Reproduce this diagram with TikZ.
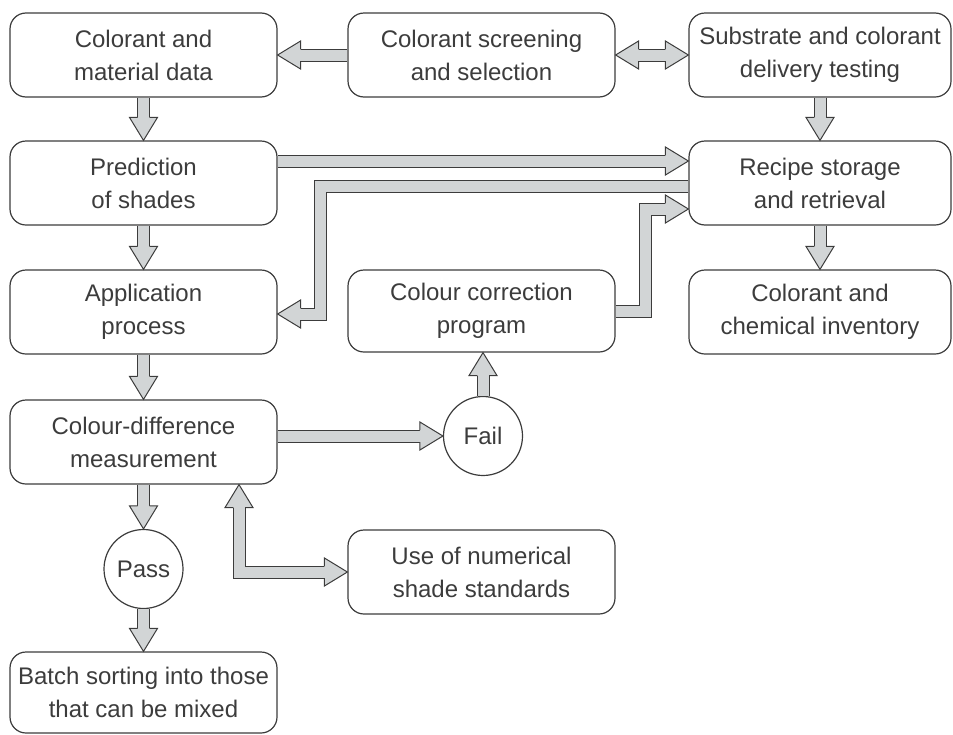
\documentclass[tikz,border=0pt]{standalone}
\usepackage{fontspec}
\setmainfont{Liberation Sans}
\usepackage{tikz}
\usetikzlibrary{calc}

\definecolor{arrowgray}{RGB}{210,213,214}
\definecolor{linegray}{RGB}{60,60,60}

% block arrow head: tip, direction
\newcommand{\ahead}[2]{%
	\filldraw[fill=arrowgray,draw=linegray,line width=1pt,line join=miter]
	($#1+({#2+180}:23pt)+({#2+90}:6pt)$) -- ++({#2+90}:8pt) -- #1
	-- ($#1+({#2+180}:23pt)+({#2-90}:14pt)$) -- ++({#2+90}:8pt);
}

\begin{document}
\begin{tikzpicture}[x=1pt,y=-1pt,
	box/.style={draw=linegray,line width=1.2pt,rounded corners=16pt,
		minimum width=267pt,minimum height=84pt,inner sep=2pt,align=center,
		text=linegray,font=\fontsize{24}{33}\selectfont},
	wide/.style={box,minimum width=262pt},
	decision/.style={circle,draw=linegray,line width=1.2pt,minimum size=79pt,
		inner sep=0pt,text=linegray,font=\fontsize{24}{33}\selectfont},
	shaft/.style={draw=linegray,line width=1pt,double=arrowgray,
		double distance=11pt,shorten >=22pt}]
	\useasboundingbox (0,0) rectangle (953,734);
	
	% Boxes
	\node[box]  (b1) at (143.5,55) {Colorant and\\material data};
	\node[box]  (b2) at (481.5,55) {Colorant screening\\and selection};
	\node[wide] (b3) at (820,55) {Substrate and colorant\\delivery testing};
	\node[box]  (b4) at (143.5,183) {Prediction\\of shades};
	\node[wide] (b5) at (820,183) {Recipe storage\\and retrieval};
	\node[box]  (b6) at (143.5,312) {Application\\process};
	\node[box,minimum height=82pt] (b7) at (481.5,311) {Colour correction\\program};
	\node[wide] (b8) at (820,312) {Colorant and\\chemical inventory};
	\node[box]  (b9) at (143.5,442) {Colour-difference\\measurement};
	\node[box]  (b12) at (481.5,572) {Use of numerical\\shade standards};
	\node[box,minimum height=81pt] (b13) at (143.5,692.5) {Batch sorting into those\\that can be mixed};
	
	% Decisions
	\node[decision] (fail) at (483,436) {Fail};
	\node[decision] (pass) at (143.5,569) {Pass};
	
	% Straight arrows down
	\foreach \a/\b in {b1/b4,b4/b6,b6/b9,b3/b5,b5/b8,b9/pass,pass/b13}{
		\draw[shaft] (\a.south) -- (\b.north);
		\ahead{(\b.north)}{270}
	}
	
	% Top row
	\draw[shaft] (b2.west) -- (b1.east);
	\ahead{(b1.east)}{180}
	\draw[shaft,shorten <=22pt] (b2.east) -- (b3.west);
	\ahead{(b3.west)}{0}
	\ahead{(b2.east)}{180}
	
	% Prediction to recipe storage and back
	\draw[shaft] ([yshift=22pt]b4.east) -- ([yshift=22pt]b5.west);
	\ahead{([yshift=22pt]b5.west)}{0}
	\draw[shaft] ([yshift=-3pt]b5.west) -| ([xshift=43pt,yshift=-2pt]b6.east)
		-- ([yshift=-2pt]b6.east);
	\ahead{([yshift=-2pt]b6.east)}{180}
	
	% Correction to recipe storage
	\draw[shaft] (b7.east) -| ([xshift=-43pt,yshift=-26pt]b5.west)
		-- ([yshift=-26pt]b5.west);
	\ahead{([yshift=-26pt]b5.west)}{0}
	
	% Fail branch
	\draw[shaft] (b9.east |- fail.west) -- (fail.west);
	\ahead{(fail.west)}{0}
	\draw[shaft] (fail.north) -- (fail.north |- b7.south);
	\ahead{(fail.north |- b7.south)}{90}
	
	% Shade standards
	\draw[shaft,shorten <=22pt] ([xshift=95.5pt]b9.south) |- (b12.west);
	\ahead{(b12.west)}{0}
	\ahead{([xshift=95.5pt]b9.south)}{90}
\end{tikzpicture}
\end{document}
